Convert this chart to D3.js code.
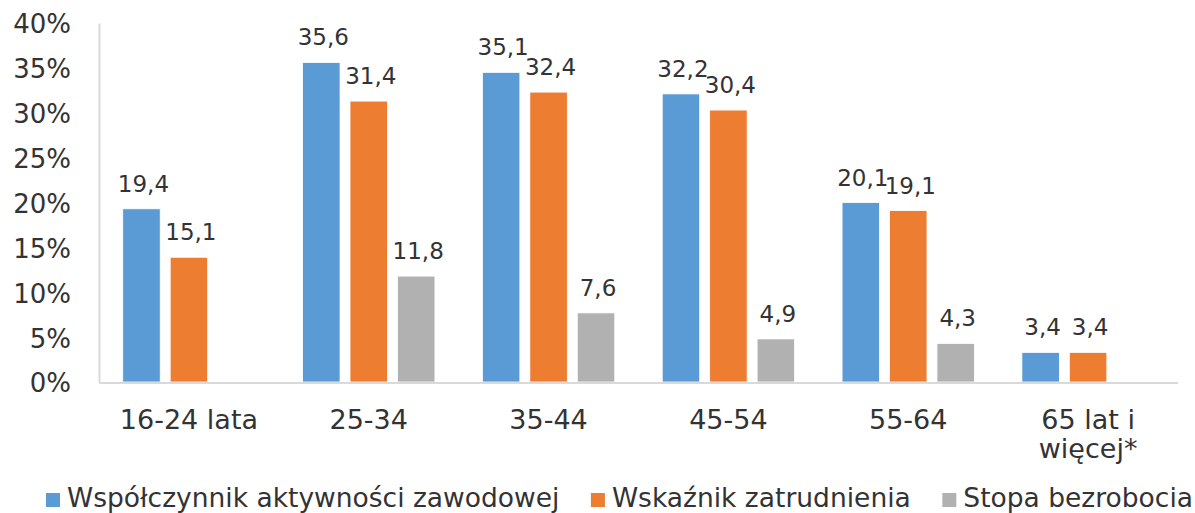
<!DOCTYPE html>
<html>
<head>
<meta charset="utf-8">
<script src="https://cdn.jsdelivr.net/npm/d3@7"></script>
<style>
  body { margin: 0; background: #fff; }
  text { font-family: "DejaVu Sans", Verdana, sans-serif; fill: #333; }
</style>
</head>
<body>
<div class="canvas"></div>
<script>
let width = 1195;
let height = 513;
const margin = { top: 23, right: 17, bottom: 131, left: 99 };

let categories = ['16-24 lata', '25-34', '35-44', '45-54', '55-64', '65 lat i\nwięcej*'];
let seriesNames = ['Współczynnik aktywności zawodowej', 'Wskaźnik zatrudnienia', 'Stopa bezrobocia'];
let colors = ['#5B9BD5', '#ED7D31', '#B1B1B1'];

// bar heights as drawn, labels as printed (null = no bar)
let activity = [19.3, 35.6, 34.5, 32.1, 20.0, 3.3];
let employment = [13.9, 31.3, 32.3, 30.3, 19.1, 3.3];
let unemployment = [null, 11.8, 7.7, 4.8, 4.3, null];
let activityLabels = ['19,4', '35,6', '35,1', '32,2', '20,1', '3,4'];
let employmentLabels = ['15,1', '31,4', '32,4', '30,4', '19,1', '3,4'];
let unemploymentLabels = [null, '11,8', '7,6', '4,9', '4,3', null];

let yTicks = [0, 5, 10, 15, 20, 25, 30, 35, 40];

let series = [
  { values: activity, labels: activityLabels },
  { values: employment, labels: employmentLabels },
  { values: unemployment, labels: unemploymentLabels }
];

let svg = d3.select('.canvas')
  .append('svg')
  .attr('width', width)
  .attr('height', height);

let plotBottom = height - margin.bottom;

let xScale = d3.scaleBand()
  .domain(categories)
  .range([margin.left, width - margin.right])
  .paddingInner(0)
  .paddingOuter(0);

let xInner = d3.scaleBand()
  .domain([0, 1, 2])
  .range([0, xScale.bandwidth()])
  .paddingInner(0.21)
  .paddingOuter(0.5);

let yScale = d3.scaleLinear()
  .domain([0, 40])
  .range([plotBottom, margin.top]);

// y axis
let yAxis = svg.append('g')
  .attr('class', 'y-axis')
  .attr('transform', `translate(${margin.left}, 0)`)
  .call(d3.axisLeft(yScale).tickValues(yTicks).tickSize(0).tickPadding(28).tickFormat(d => d + '%'));
yAxis.select('.domain').attr('stroke', '#d9d9d9').attr('stroke-width', 2);
yAxis.selectAll('text')
  .style('font-size', '26px')
  .style('font-family', '"DejaVu Sans", Verdana, sans-serif')
  .attr('dy', '0.38em')
  .attr('fill', '#333');

// bars
series.forEach((s, si) => {
  let items = categories.map((c, i) => ({ cat: c, v: s.values[i], label: s.labels[i] }))
    .filter(d => d.v !== null);

  svg.selectAll('.bar' + si)
    .data(items)
    .enter()
    .append('rect')
    .attr('class', 'bar' + si)
    .attr('x', d => xScale(d.cat) + xInner(si))
    .attr('y', d => yScale(d.v))
    .attr('width', xInner.bandwidth())
    .attr('height', d => plotBottom - yScale(d.v))
    .attr('fill', colors[si])
    .attr('stroke', '#fff')
    .attr('stroke-width', 0.8);

  svg.selectAll('.label' + si)
    .data(items)
    .enter()
    .append('text')
    .attr('class', 'label' + si)
    .attr('x', d => xScale(d.cat) + xInner(si) + xInner.bandwidth() / 2 + 2)
    .attr('y', d => yScale(d.v) - 17)
    .attr('text-anchor', 'middle')
    .style('font-size', '23px')
    .text(d => d.label);
});

// x axis baseline
svg.append('line')
  .attr('x1', margin.left)
  .attr('x2', width - margin.right)
  .attr('y1', plotBottom + 1)
  .attr('y2', plotBottom + 1)
  .attr('stroke', '#d9d9d9')
  .attr('stroke-width', 2);

// category labels
let catLabels = svg.selectAll('.cat-label')
  .data(categories)
  .enter()
  .append('text')
  .attr('class', 'cat-label')
  .attr('x', d => xScale(d) + xScale.bandwidth() / 2)
  .attr('y', plotBottom + 47)
  .attr('text-anchor', 'middle')
  .style('font-size', '27px');
catLabels.each(function(d) {
  let lines = d.split('\n');
  let t = d3.select(this);
  lines.forEach((ln, i) => {
    t.append('tspan')
      .attr('x', xScale(d) + xScale.bandwidth() / 2)
      .attr('dy', i === 0 ? 0 : 28.5)
      .text(ln);
  });
});

// legend
let legend = svg.append('g').attr('class', 'legend');
let legendItems = legend.selectAll('.legend-item')
  .data(seriesNames)
  .enter()
  .append('g')
  .attr('class', 'legend-item');
legendItems.append('rect')
  .attr('width', 14)
  .attr('height', 14)
  .attr('y', -14)
  .attr('fill', (d, i) => colors[i]);
legendItems.append('text')
  .attr('x', 21)
  .attr('y', 0)
  .style('font-size', '26.5px')
  .text(d => d);

let legendLeft = 46, legendRight = 1193;
let widths = [];
legendItems.each(function() {
  widths.push(21 + d3.select(this).select('text').node().getComputedTextLength());
});
let gap = (legendRight - legendLeft - d3.sum(widths)) / (widths.length - 1);
let xPos = legendLeft;
legendItems.each(function(d, i) {
  d3.select(this).attr('transform', `translate(${xPos}, 507)`);
  xPos += widths[i] + gap;
});
</script>
</body>
</html>
